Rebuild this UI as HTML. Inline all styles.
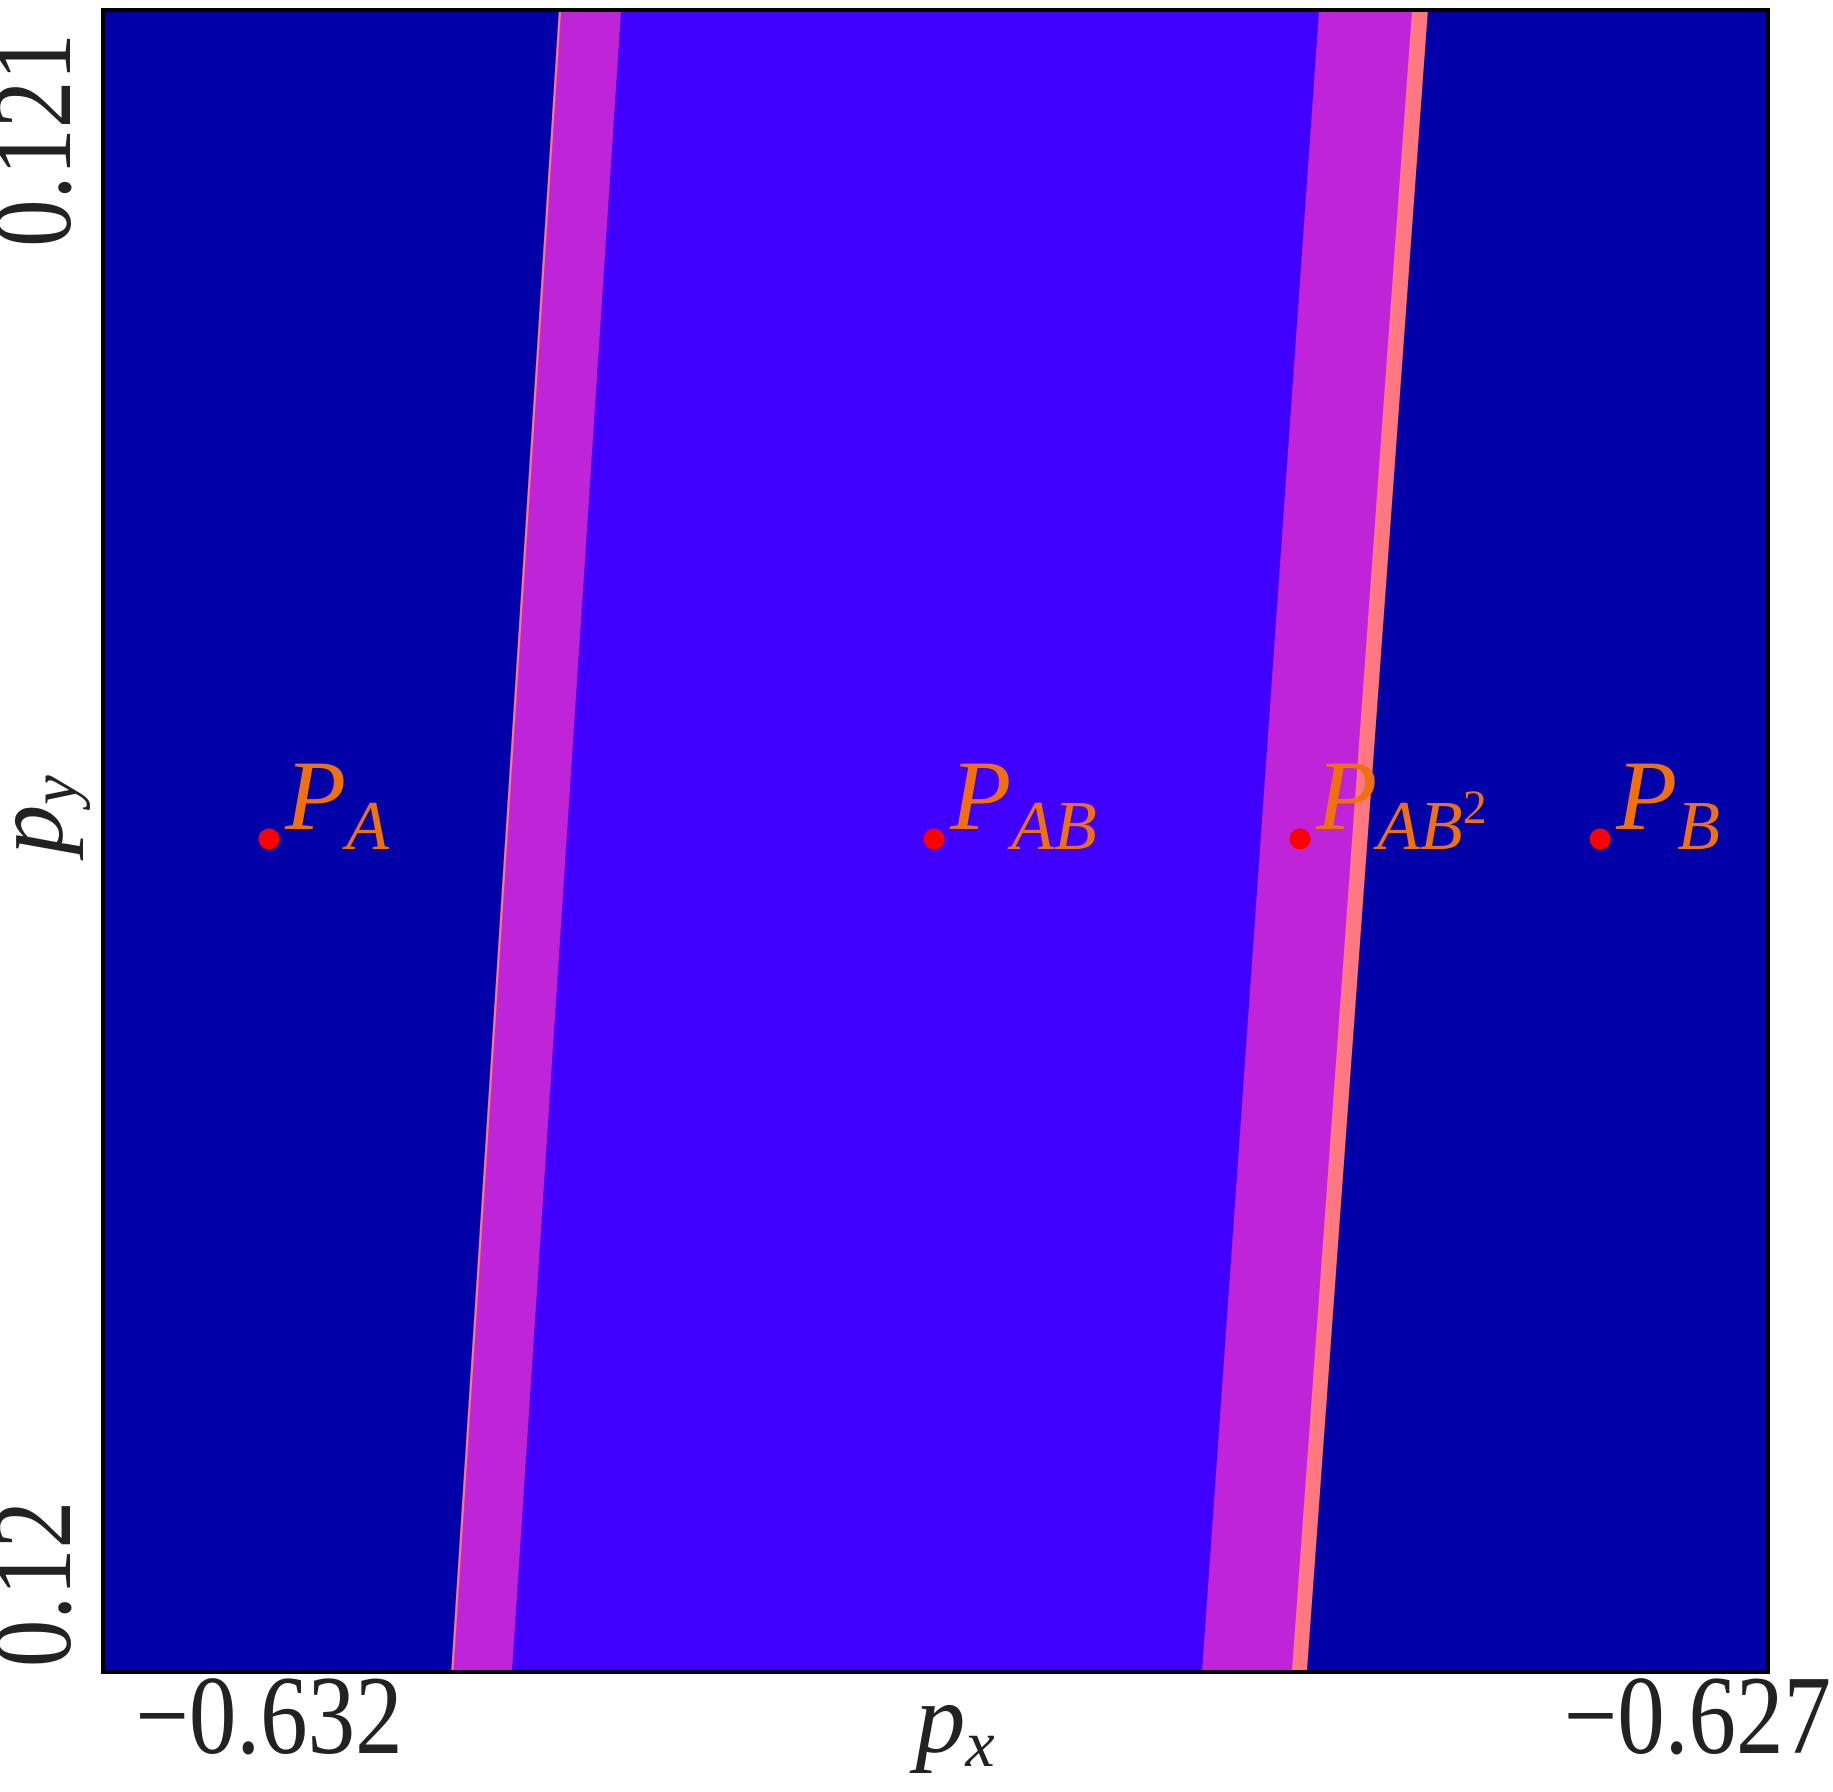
<!DOCTYPE html>
<html><head><meta charset="utf-8"><style>
html,body{margin:0;padding:0;background:#fff;}
svg{display:block;}
</style></head><body>
<svg id="chart" width="1833" height="1792" viewBox="0 0 1833 1792" xmlns="http://www.w3.org/2000/svg"></svg>
<script>
// axis domain / ticks
const xTicks = [-0.632, -0.627];
const xTickLabels = ["\u22120.632", "\u22120.627"];
const yTicks = [0.121, 0.12];
const yTickLabels = ["0.121", "0.12"];
const yRange = [0.119939, 0.12109];
// band boundaries [top x, bottom x] in data units
const leftSalmonEdge = [-0.630975, -0.631356];
const leftMagentaStart = [-0.630967, -0.631348];
const leftMagentaEnd = [-0.630755, -0.631141];
const rightMagentaStart = [-0.628287, -0.628701];
const rightSalmonStart = [-0.627958, -0.628383];
const rightSalmonEnd = [-0.627902, -0.628330];
// points
const pointNames = ["P_A", "P_AB", "P_AB2", "P_B"];
const pointX = [-0.632, -0.629648, -0.628354, -0.627293];
const pointY = [0.120516, 0.120516, 0.120516, 0.120516];

const NS = "http://www.w3.org/2000/svg";
const svg = document.getElementById("chart");
const L = 103, R = 1768, T = 10, B = 1672;
function sx(v){ return 269 + (v - (-0.632)) * 282800; }
function sy(v){ return 1584 - (v - 0.12) * 1444000; }
function mk(tag, attrs){ const e = document.createElementNS(NS, tag); for (const k in attrs) e.setAttribute(k, attrs[k]); svg.appendChild(e); return e; }

const bg = mk("rect", {x:L, y:T, width:R-L, height:B-T, fill:"#0000a8"});



const yt = sy(yRange[1]), yb = sy(yRange[0]);
function band(a, b, fill, name){
  const pts = [[sx(a[0]),yt],[sx(b[0]),yt],[sx(b[1]),yb],[sx(a[1]),yb]].map(p=>p.join(",")).join(" ");
  const p = mk("polygon", {points:pts, fill:fill});
  
  
}
band(leftSalmonEdge, rightSalmonEnd, "#ff7880", "salmon-region");
band(leftMagentaStart, rightSalmonStart, "#c024d8", "magenta-region");
band(leftMagentaEnd, rightMagentaStart, "#4000ff", "inner-blue-region");

const frame = mk("rect", {x:L, y:T, width:R-L, height:B-T, fill:"none", stroke:"#000", "stroke-width":4});



const subs = {"P_A":["A",""], "P_AB":["AB",""], "P_AB2":["AB","2"], "P_B":["B",""]};
pointNames.forEach((n,i)=>{
  const cx = sx(pointX[i]), cy = sy(pointY[i]);
  const c = mk("circle", {cx:cx, cy:cy, r:10.5, fill:"#ff0000"});
  
  
  const t = mk("text", {x:cx+16, y:cy-10, fill:"#f07010", "font-family":"Liberation Serif, serif", "font-style":"italic", "font-size":100});
  
  
  const s = subs[n];
  t.innerHTML = 'P<tspan font-size="70" dy="20">' + s[0] + '</tspan>' + (s[1] ? '<tspan font-size="48" font-style="normal" dy="-26">' + s[1] + '</tspan>' : '');
});

xTicks.forEach((v,i)=>{
  const t = mk("text", {x:0, y:0, transform:"translate(" + (i===0 ? sx(v) : 1831) + ",1753) scale(0.95,1.12)", "text-anchor": i===0 ? "middle" : "end", fill:"#222", "font-family":"Liberation Serif, serif", "font-size":100});
  
  
  t.textContent = xTickLabels[i];
});
yTicks.forEach((v,i)=>{
  const y = sy(v);
  const t = mk("text", {x:0, y:0, transform:"translate(70," + y + ") rotate(-90) scale(0.95,1.12)", "text-anchor":"middle", fill:"#222", "font-family":"Liberation Serif, serif", "font-size":100});
  
  
  t.textContent = yTickLabels[i];
});
const xl = mk("text", {x:955, y:1752, "text-anchor":"middle", fill:"#222", "font-family":"Liberation Serif, serif", "font-style":"italic", "font-size":100});


xl.innerHTML = 'p<tspan font-size="66" dy="14">x</tspan>';
const yl = mk("text", {x:0, y:0, transform:"translate(62,815) rotate(-90)", "text-anchor":"middle", fill:"#222", "font-family":"Liberation Serif, serif", "font-style":"italic", "font-size":100});


yl.innerHTML = 'p<tspan font-size="66" dy="14">y</tspan>';
</script>
</body></html>
